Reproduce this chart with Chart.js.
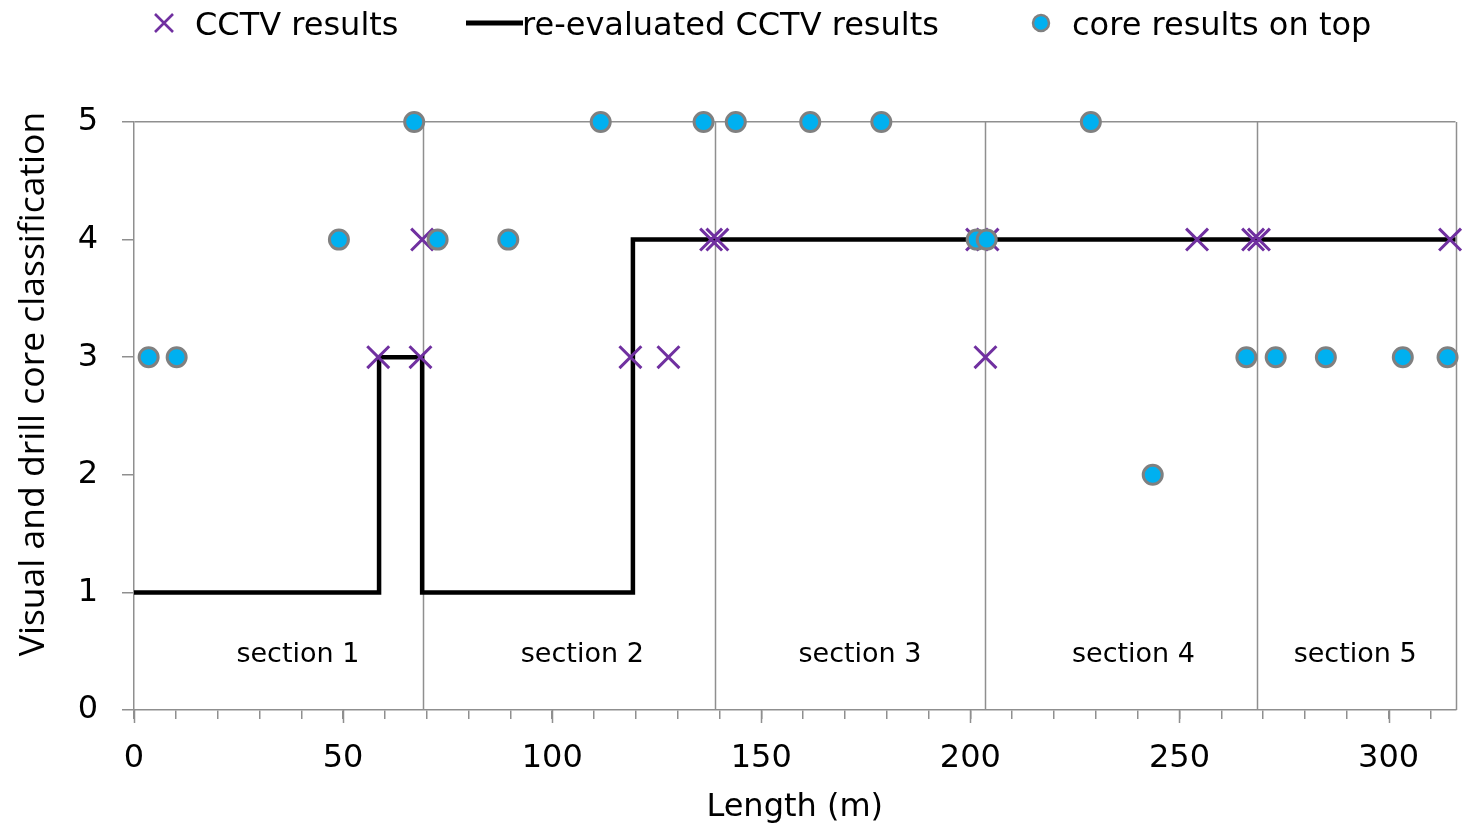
<!DOCTYPE html>
<html>
<head>
<meta charset="utf-8">
<script src="https://cdn.jsdelivr.net/npm/chart.js@4.4.1/dist/chart.umd.min.js"></script>
<style>
  html, body { margin: 0; padding: 0; background: #ffffff; }
  #wrap { width: 1474px; height: 832px; }
</style>
</head>
<body>
<div id="wrap"><canvas id="c" width="1474" height="832"></canvas></div>
<script>
// ---- data ----
const cctvX = [58.4, 68.5, 68.9, 118.7, 127.8, 138.0, 139.5, 201.6, 203.6, 204.1, 254.2, 267.6, 269.0, 314.7];
const cctvY = [3, 3, 4, 3, 3, 4, 4, 4, 3, 4, 4, 4, 4, 4];

const reevalX = [0, 58.6, 58.6, 68.9, 68.9, 119.3, 119.3, 316];
const reevalY = [1, 1, 3, 3, 1, 1, 4, 4];

const coreX = [3.5, 10.2, 49.0, 67.0, 72.6, 89.5, 111.6, 136.2, 143.9, 161.7, 178.7, 201.5, 203.9, 228.8, 243.6, 266.0, 273.0, 285.0, 303.4, 314.1];
const coreY = [3, 3, 4, 5, 4, 4, 5, 5, 5, 5, 5, 4, 4, 5, 2, 3, 3, 3, 3, 3];

const sectionBounds = [69.0, 138.9, 203.5, 268.5];
const sectionLabels = ['section 1', 'section 2', 'section 3', 'section 4', 'section 5'];
const sectionLabelX = [39.2, 107.2, 173.6, 239.0, 292.0];
const sectionLabelY = 0.47;

const xMin = 0, xMax = 316, xStep = 10, xMajor = 50;
const yMin = 0, yMax = 5;

const legendNames = ['CCTV results', 're-evaluated CCTV results', 'core results on top'];
const xTitle = 'Length (m)';
const yTitle = 'Visual and drill core classification';

// ---- styles ----
const PURPLE = '#7030A0';
const BLUE = '#00B0F0';
const GRAYM = '#808080';
const AXIS = '#8f8f8f';
const FONT = '"DejaVu Sans", Verdana, sans-serif';

const toPts = (xs, ys) => xs.map((x, i) => ({ x: x, y: ys[i] }));

const decorPlugin = {
  id: 'decor',
  beforeDatasetsDraw(chart) {
    const { ctx, chartArea: a, scales: { x, y } } = chart;
    ctx.save();
    ctx.strokeStyle = AXIS;
    ctx.lineWidth = 1.5;
    sectionBounds.forEach(v => {
      const px = Math.round(x.getPixelForValue(v)) + 0.5;
      ctx.beginPath(); ctx.moveTo(px, a.top); ctx.lineTo(px, a.bottom); ctx.stroke();
    });
    const rx = Math.round(x.getPixelForValue(x.max)) + 0.5;
    ctx.beginPath(); ctx.moveTo(rx, a.top); ctx.lineTo(rx, a.bottom); ctx.stroke();
    ctx.fillStyle = '#000';
    ctx.font = '27px ' + FONT;
    ctx.textAlign = 'center';
    ctx.textBaseline = 'middle';
    sectionLabels.forEach((t, i) => {
      ctx.fillText(t, x.getPixelForValue(sectionLabelX[i]), y.getPixelForValue(sectionLabelY));
    });
    ctx.restore();
  },
  afterDraw(chart) {
    const { ctx, scales: { x } } = chart;
    ctx.save();
    ctx.strokeStyle = AXIS;
    ctx.lineWidth = 1.5;
    for (let v = xMin; v <= xMax; v += xMajor) {
      const px = Math.round(x.getPixelForValue(v)) + 0.5;
      ctx.beginPath(); ctx.moveTo(px, x.top); ctx.lineTo(px, x.top + 13); ctx.stroke();
    }
    ctx.fillStyle = '#000';
    ctx.font = '35.5px "Open Sans", sans-serif';
    ctx.textAlign = 'center';
    ctx.textBaseline = 'alphabetic';
    ctx.translate(44, 384);
    ctx.rotate(-Math.PI / 2);
    ctx.fillText(yTitle, 0, 0);
    ctx.restore();

    // legend
    ctx.save();
    ctx.font = '32px ' + FONT;
    ctx.fillStyle = '#000';
    ctx.textAlign = 'left';
    ctx.textBaseline = 'alphabetic';
    const ly = 23, base = 35;
    ctx.strokeStyle = PURPLE; ctx.lineWidth = 2.6;
    ctx.beginPath();
    ctx.moveTo(164 - 9, ly - 9); ctx.lineTo(164 + 9, ly + 9);
    ctx.moveTo(164 + 9, ly - 9); ctx.lineTo(164 - 9, ly + 9);
    ctx.stroke();
    ctx.fillText(legendNames[0], 195, base);
    ctx.strokeStyle = '#000'; ctx.lineWidth = 5;
    ctx.beginPath(); ctx.moveTo(466, ly); ctx.lineTo(523, ly); ctx.stroke();
    ctx.fillText(legendNames[1], 522, base);
    ctx.fillStyle = BLUE; ctx.strokeStyle = GRAYM; ctx.lineWidth = 2.5;
    ctx.beginPath(); ctx.arc(1041, ly, 8, 0, Math.PI * 2); ctx.fill(); ctx.stroke();
    ctx.fillStyle = '#000';
    ctx.fillText(legendNames[2], 1072, base);
    ctx.restore();
  }
};

new Chart(document.getElementById('c'), {
  type: 'scatter',
  data: {
    datasets: [
      {
        label: legendNames[0],
        data: toPts(cctvX, cctvY),
        pointStyle: 'crossRot',
        pointRadius: 15.5,
        pointBorderColor: PURPLE,
        pointBackgroundColor: PURPLE,
        pointBorderWidth: 3,
        showLine: false,
        clip: false,
        order: 2
      },
      {
        label: legendNames[1],
        data: toPts(reevalX, reevalY),
        showLine: true,
        borderColor: '#000',
        borderWidth: 4.5,
        borderJoinStyle: 'miter',
        tension: 0,
        pointRadius: 0,
        fill: false,
        clip: false,
        order: 3
      },
      {
        label: legendNames[2],
        data: toPts(coreX, coreY),
        pointStyle: 'circle',
        pointRadius: 9.5,
        pointBackgroundColor: BLUE,
        pointBorderColor: GRAYM,
        pointBorderWidth: 3,
        showLine: false,
        clip: false,
        order: 1
      }
    ]
  },
  options: {
    responsive: false,
    animation: false,
    layout: { padding: { top: 122, right: 17, bottom: 0, left: 0 } },
    plugins: {
      legend: { display: false },
      tooltip: { enabled: false }
    },
    scales: {
      x: {
        type: 'linear',
        min: xMin, max: xMax,
        afterFit(s) { s.height = 122; },
        border: { display: true, color: AXIS, width: 1.5 },
        grid: { display: true, drawOnChartArea: false, tickLength: 9, tickColor: AXIS, lineWidth: 1.5 },
        ticks: {
          stepSize: xStep,
          includeBounds: false,
          autoSkip: false,
          maxRotation: 0,
          padding: 20,
          color: '#000',
          font: { family: FONT, size: 32 },
          callback: v => (v % xMajor === 0 ? String(v) : '')
        },
        title: {
          display: true, text: xTitle, color: '#000',
          font: { family: FONT, size: 32 },
          padding: { top: 0, bottom: 5 }
        }
      },
      y: {
        type: 'linear',
        min: yMin, max: yMax,
        afterFit(s) { s.width = 134; },
        border: { display: true, color: AXIS, width: 1.5 },
        grid: {
          display: true,
          drawOnChartArea: true,
          tickLength: 12,
          tickColor: AXIS,
          lineWidth: 1.5,
          color: c => (c.tick && c.tick.value === yMax ? AXIS : 'rgba(0,0,0,0)')
        },
        ticks: {
          stepSize: 1,
          padding: 24,
          color: '#000',
          font: { family: FONT, size: 32 }
        },
        title: { display: false }
      }
    }
  },
  plugins: [decorPlugin]
});
</script>
</body>
</html>
